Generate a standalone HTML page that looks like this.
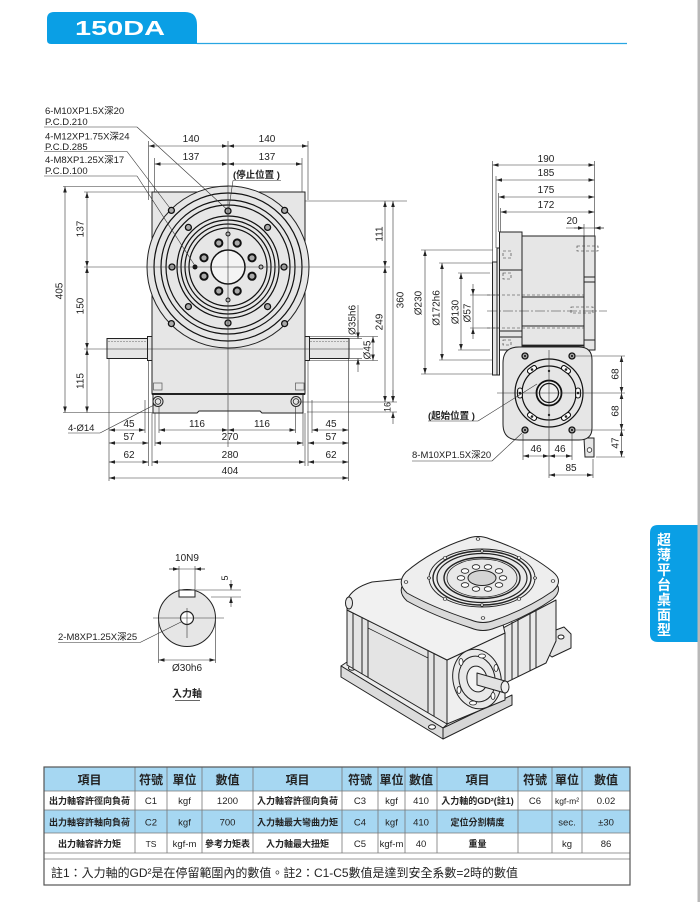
<!DOCTYPE html>
<html><head><meta charset="utf-8">
<style>
html,body{margin:0;padding:0;background:#fff;}
svg{display:block;}
text{font-family:"Liberation Sans","Noto Sans CJK TC",sans-serif;fill:#222;}
.f{fill:#e6e6e6;stroke:#222;stroke-width:1;}
.o{fill:none;stroke:#111;stroke-width:1.2;}
.d{stroke:#333;stroke-width:0.6;fill:none;}
.da{stroke:#333;stroke-width:0.6;fill:none;marker-start:url(#ar);marker-end:url(#ar);}
.de{stroke:#333;stroke-width:0.6;fill:none;marker-end:url(#ar);}
.n{font-size:10px;text-anchor:middle;}
.l{font-size:9.5px;}
.th{font-size:12px;font-weight:bold;text-anchor:middle;}
.tc{font-size:9px;font-weight:bold;text-anchor:middle;}
.tn{font-size:9.5px;text-anchor:middle;}
.h{fill:#aaa;stroke:#111;stroke-width:1.3;}
.tb{fill:none;stroke:#777;stroke-width:0.8;}
</style></head><body>
<svg width="700" height="902" viewBox="0 0 700 902">
<defs>
<marker id="ar" viewBox="0 0 10 6" refX="10" refY="3" markerWidth="6" markerHeight="3.6" orient="auto-start-reverse" markerUnits="userSpaceOnUse"><path d="M0,0L10,3L0,6z" fill="#222"/></marker>
</defs>

<rect x="697.5" y="0" width="2.5" height="902" fill="#b8b8b8"/>

<!-- header -->
<path d="M47,40 L47,19 Q47,12 54,12 L185,12 Q197,12 197,25 L197,44 L51,44 Q47,44 47,40 Z" fill="#0a9fe5"/>
<text x="75" y="35" font-size="20" font-weight="bold" style="fill:#fff" textLength="90" lengthAdjust="spacingAndGlyphs">150DA</text>
<line x1="197" y1="43.5" x2="627" y2="43.5" stroke="#29a6e2" stroke-width="1.3"/>

<!-- ================= FRONT VIEW ================= -->
<rect x="107" y="338.5" width="41" height="20" class="f"/>
<line x1="108" y1="341.5" x2="147" y2="341.5" stroke="#666" stroke-width="0.6" stroke-dasharray="2,1"/>
<rect x="309.5" y="338.5" width="39.5" height="20" class="f"/>
<line x1="310" y1="341.5" x2="348" y2="341.5" stroke="#666" stroke-width="0.6" stroke-dasharray="2,1"/>
<rect x="147.5" y="336.5" width="4.5" height="24" class="f"/>
<rect x="305" y="336.5" width="4.5" height="24" class="f"/>
<rect x="152" y="192" width="153" height="202" class="f"/>
<path d="M153,394 H303 V413 H262 L260,411 H199 L197,413 H153 Z" class="f"/>
<line x1="152" y1="394" x2="305" y2="394" stroke="#222" stroke-width="2"/>
<rect x="153.5" y="383" width="8.5" height="7" fill="none" stroke="#555" stroke-width="0.7"/>
<rect x="295.5" y="383" width="8.5" height="7" fill="none" stroke="#555" stroke-width="0.7"/>
<circle cx="158" cy="401.5" r="5" class="f"/><circle cx="158" cy="401.5" r="2.8" fill="none" stroke="#222" stroke-width="0.8"/>
<circle cx="296" cy="401.5" r="5" class="f"/><circle cx="296" cy="401.5" r="2.8" fill="none" stroke="#222" stroke-width="0.8"/>

<circle cx="228" cy="267" r="81" class="f" stroke-width="1.3"/>
<circle cx="228" cy="267" r="74" class="o" stroke-width="1.9"/>
<circle cx="228" cy="267" r="67" class="o" stroke-width="1.9"/>
<circle cx="228" cy="267" r="62" class="o" stroke-width="0.8"/>
<circle cx="228" cy="267" r="51" class="o" stroke-width="1.9"/>
<circle cx="228" cy="267" r="47" class="o" stroke-width="1.9"/>
<circle cx="228" cy="267" r="43" class="o" stroke-width="1.9"/>
<circle cx="228" cy="267" r="39" class="o" stroke-width="1.5"/>
<circle cx="228" cy="267" r="17" fill="#f4f4f4" stroke="#111" stroke-width="1.5"/>
<g>
<circle cx="284" cy="267" r="3" class="h"/><circle cx="267.6" cy="306.6" r="3" class="h"/>
<circle cx="228" cy="323" r="3" class="h"/><circle cx="188.4" cy="306.6" r="3" class="h"/>
<circle cx="172" cy="267" r="3" class="h"/><circle cx="188.4" cy="227.4" r="3" class="h"/>
<circle cx="228" cy="211" r="3" class="h"/><circle cx="267.6" cy="227.4" r="3" class="h"/>
<circle cx="284.6" cy="323.6" r="3" class="h"/><circle cx="171.4" cy="323.6" r="3" class="h"/>
<circle cx="171.4" cy="210.4" r="3" class="h"/><circle cx="284.6" cy="210.4" r="3" class="h"/>
</g>
<g fill="#aaa" stroke="#111" stroke-width="2">
<circle cx="252" cy="276.2" r="3.6"/><circle cx="237.2" cy="291" r="3.6"/>
<circle cx="218.8" cy="291" r="3.6"/><circle cx="204" cy="276.2" r="3.6"/>
<circle cx="204" cy="257.8" r="3.6"/><circle cx="218.8" cy="243" r="3.6"/>
<circle cx="237.2" cy="243" r="3.6"/><circle cx="252" cy="257.8" r="3.6"/>
</g>
<g fill="#ddd" stroke="#111" stroke-width="1">
<circle cx="261" cy="267" r="2"/><circle cx="228" cy="300" r="2"/><circle cx="228" cy="234" r="2"/>
</g>
<circle cx="195" cy="267" r="2.5" fill="#111"/>

<g class="d">
<line x1="228" y1="141" x2="228" y2="447"/>
<line x1="84" y1="267" x2="390" y2="267"/>
<line x1="84" y1="349" x2="363" y2="349"/>
<line x1="63" y1="186.5" x2="228" y2="186.5"/>
<line x1="84" y1="192" x2="152" y2="192"/>
<line x1="63" y1="412.5" x2="153" y2="412.5"/>
<line x1="305" y1="201" x2="407" y2="201"/>
<line x1="297" y1="402" x2="397" y2="402"/>
<line x1="307" y1="412" x2="397" y2="412"/>
<line x1="148.5" y1="141" x2="148.5" y2="200"/>
<line x1="148.5" y1="361" x2="148.5" y2="466"/>
<line x1="308" y1="141" x2="308" y2="200"/>
<line x1="308" y1="361" x2="308" y2="466"/>
<line x1="154.5" y1="158" x2="154.5" y2="192"/>
<line x1="302" y1="158" x2="302" y2="192"/>
<line x1="109" y1="359" x2="109" y2="481"/>
<line x1="348.5" y1="359" x2="348.5" y2="481"/>
<line x1="145" y1="400" x2="145" y2="433"/>
<line x1="152" y1="413" x2="152" y2="466"/>
<line x1="155" y1="413" x2="155" y2="446"/>
<line x1="159" y1="406" x2="159" y2="433"/>
<line x1="295.5" y1="406" x2="295.5" y2="433"/>
<line x1="303" y1="413" x2="303" y2="446"/>
<line x1="305" y1="413" x2="305" y2="466"/>
<line x1="312" y1="400" x2="312" y2="433"/>
<line x1="349" y1="338.5" x2="362" y2="338.5"/>
<line x1="349" y1="358.5" x2="362" y2="358.5"/>
<line x1="309" y1="336.5" x2="378" y2="336.5"/>
<line x1="309" y1="360.5" x2="378" y2="360.5"/>
<line x1="358" y1="305" x2="358" y2="338.5"/>
<line x1="44" y1="127" x2="137" y2="127"/><line x1="137" y1="127" x2="226" y2="208.5"/>
<line x1="44" y1="151.5" x2="127" y2="151.5"/><line x1="127" y1="151.5" x2="169.5" y2="207.5"/>
<line x1="44" y1="176" x2="137" y2="176"/><line x1="137" y1="176" x2="194.5" y2="265"/>
<line x1="233" y1="180.5" x2="281" y2="180.5"/><line x1="233" y1="180.5" x2="229" y2="207.5"/>
<line x1="68" y1="433" x2="100" y2="433"/><line x1="100" y1="433" x2="156" y2="404"/>
</g>
<g class="da">
<line x1="148.5" y1="146" x2="228" y2="146"/><line x1="228" y1="146" x2="308" y2="146"/>
<line x1="154.5" y1="164" x2="228" y2="164"/><line x1="228" y1="164" x2="302" y2="164"/>
<line x1="65" y1="186.5" x2="65" y2="412.5"/>
<line x1="87" y1="192" x2="87" y2="267"/><line x1="87" y1="267" x2="87" y2="349"/><line x1="87" y1="349" x2="87" y2="412.5"/>
<line x1="385" y1="201" x2="385" y2="267"/><line x1="385" y1="267" x2="385" y2="402"/>
<line x1="393" y1="201" x2="393" y2="402"/>
<line x1="373" y1="336.5" x2="373" y2="360.5"/>
<line x1="109" y1="430" x2="145" y2="430"/><line x1="159" y1="430" x2="228" y2="430"/><line x1="228" y1="430" x2="295.5" y2="430"/><line x1="312" y1="430" x2="348.5" y2="430"/>
<line x1="109" y1="443" x2="148.5" y2="443"/><line x1="155" y1="443" x2="303" y2="443"/><line x1="308" y1="443" x2="348.5" y2="443"/>
<line x1="109" y1="462" x2="148.5" y2="462"/><line x1="152" y1="462" x2="305" y2="462"/><line x1="308" y1="462" x2="348.5" y2="462"/>
<line x1="109" y1="478" x2="348.5" y2="478"/>
</g>
<g class="de">
<line x1="358" y1="320" x2="358" y2="338.5"/><line x1="358" y1="372" x2="358" y2="358.5"/>
<line x1="393" y1="390" x2="393" y2="402"/><line x1="393" y1="424" x2="393" y2="412"/>
</g>
<g class="l">
<text x="45" y="114">6-M10XP1.5X深20</text>
<text x="45" y="125">P.C.D.210</text>
<text x="45" y="139.5">4-M12XP1.75X深24</text>
<text x="45" y="150">P.C.D.285</text>
<text x="45" y="163">4-M8XP1.25X深17</text>
<text x="45" y="174">P.C.D.100</text>
<text x="233" y="178" font-weight="bold">(停止位置 )</text>
<text x="68" y="431">4-Ø14</text>
</g>
<g class="n">
<text x="191" y="142">140</text><text x="267" y="142">140</text>
<text x="191" y="160">137</text><text x="267" y="160">137</text>
<text transform="translate(59,291) rotate(-90)" dy=".35em">405</text>
<text transform="translate(80,229) rotate(-90)" dy=".35em">137</text>
<text transform="translate(80,306) rotate(-90)" dy=".35em">150</text>
<text transform="translate(80,381) rotate(-90)" dy=".35em">115</text>
<text transform="translate(379,234) rotate(-90)" dy=".35em">111</text>
<text transform="translate(379,322) rotate(-90)" dy=".35em">249</text>
<text transform="translate(400,300) rotate(-90)" dy=".35em">360</text>
<text transform="translate(387.5,407) rotate(-90)" dy=".35em" font-size="9">16</text>
<text transform="translate(352,320) rotate(-90)" dy=".35em">Ø35h6</text>
<text transform="translate(367,350) rotate(-90)" dy=".35em">Ø45</text>
<text x="129" y="427">45</text><text x="197" y="427">116</text><text x="262" y="427">116</text><text x="331" y="427">45</text>
<text x="129" y="440">57</text><text x="230" y="440">270</text><text x="331" y="440">57</text>
<text x="129" y="458">62</text><text x="230" y="458">280</text><text x="331" y="458">62</text>
<text x="230" y="474">404</text>
</g>

<!-- ================= SIDE VIEW ================= -->
<rect x="492.5" y="262" width="4.5" height="113" class="f"/>
<rect x="497" y="248" width="2.5" height="127" class="f"/>
<rect x="499.5" y="232" width="22.5" height="118" class="f"/>
<rect x="522" y="236" width="62" height="110" class="f"/>
<rect x="584" y="236" width="11" height="114" class="f"/>
<g stroke="#222" stroke-width="1">
<line x1="499.5" y1="270" x2="522" y2="270"/>
<line x1="499.5" y1="331" x2="522" y2="331"/>
<line x1="499.5" y1="337" x2="522" y2="337"/>
<line x1="522" y1="297" x2="584" y2="297"/>
<line x1="522" y1="326" x2="584" y2="326"/>
<line x1="584" y1="277" x2="595" y2="277"/>
<line x1="584" y1="282" x2="595" y2="282"/>
<line x1="584" y1="340" x2="595" y2="340"/>
<line x1="522" y1="345.5" x2="584" y2="345.5" stroke-width="1.8"/>
</g>
<g stroke="#333" stroke-width="0.6" stroke-dasharray="3,2" fill="none">
<line x1="487" y1="295" x2="584" y2="295"/>
<line x1="487" y1="328" x2="584" y2="328"/>
<rect x="503" y="251" width="8" height="7"/>
<rect x="503" y="273" width="8" height="6"/>
<rect x="577" y="246" width="21" height="5"/>
<rect x="571" y="307" width="22" height="6"/>
<rect x="503" y="340" width="8" height="5"/>
</g>
<line x1="487" y1="311" x2="607" y2="311" stroke="#333" stroke-width="0.6" stroke-dasharray="10,2,2,2"/>

<path d="M584,438 L594,438 L594,457 L585,457 Z" class="f"/>
<circle cx="589.5" cy="450" r="2.3" fill="#fff" stroke="#222" stroke-width="0.8"/>
<path d="M519,347 L579,347 Q592,347 592,360 L592,428 Q592,440 579,440 L519,440 Q503,440 503,424 L503,363 Q503,347 519,347 Z" class="f" stroke-width="1.2"/>
<circle cx="549" cy="393" r="34" class="o"/>
<circle cx="549" cy="393" r="27" class="o"/>
<circle cx="549" cy="393" r="12.5" fill="#f0f0f0" stroke="#111" stroke-width="1.8"/>
<circle cx="549" cy="393" r="9.5" class="o" stroke-width="1"/>
<g fill="#fff" stroke="#111" stroke-width="1.1">
<rect x="-5" y="-2.4" width="10" height="4.8" rx="2.4" transform="translate(578,393) rotate(90)"/>
<rect x="-5" y="-2.4" width="10" height="4.8" rx="2.4" transform="translate(566,416.5) rotate(144)"/>
<rect x="-5" y="-2.4" width="10" height="4.8" rx="2.4" transform="translate(532,416.5) rotate(216)"/>
<rect x="-5" y="-2.4" width="10" height="4.8" rx="2.4" transform="translate(520,393) rotate(270)"/>
<rect x="-5" y="-2.4" width="10" height="4.8" rx="2.4" transform="translate(532,369.5) rotate(324)"/>
<rect x="-5" y="-2.4" width="10" height="4.8" rx="2.4" transform="translate(566,369.5) rotate(36)"/>
</g>
<g fill="#222">
<circle cx="578" cy="393" r="1.3"/><circle cx="566" cy="416.5" r="1.3"/><circle cx="532" cy="416.5" r="1.3"/>
<circle cx="520" cy="393" r="1.3"/><circle cx="532" cy="369.5" r="1.3"/><circle cx="566" cy="369.5" r="1.3"/>
<circle cx="549" cy="371" r="1.2"/><circle cx="549" cy="415" r="1.2"/>
</g>
<g>
<circle cx="525" cy="356" r="3" class="h"/><circle cx="572" cy="356" r="3" class="h"/>
<circle cx="525" cy="430" r="3" class="h"/><circle cx="572" cy="430" r="3" class="h"/>
</g>
<g fill="#222"><circle cx="525" cy="356" r="1.1"/><circle cx="572" cy="356" r="1.1"/><circle cx="525" cy="430" r="1.1"/><circle cx="572" cy="430" r="1.1"/></g>
<g class="d">
<line x1="497" y1="393" x2="625" y2="393"/>
<line x1="549" y1="350" x2="549" y2="478"/>
<line x1="492.5" y1="161" x2="492.5" y2="262"/>
<line x1="496" y1="176" x2="496" y2="248"/>
<line x1="498.5" y1="193" x2="498.5" y2="232"/>
<line x1="500.5" y1="208" x2="500.5" y2="232"/>
<line x1="594.5" y1="161" x2="594.5" y2="236"/>
<line x1="584" y1="224" x2="584" y2="236"/>
<line x1="566" y1="228" x2="604" y2="228"/>
<line x1="421" y1="250" x2="493" y2="250"/>
<line x1="421" y1="374" x2="493" y2="374"/>
<line x1="439" y1="263" x2="493" y2="263"/>
<line x1="439" y1="360" x2="493" y2="360"/>
<line x1="458" y1="273" x2="490" y2="273"/>
<line x1="458" y1="350" x2="490" y2="350"/>
<line x1="470" y1="295" x2="499" y2="295"/>
<line x1="470" y1="328" x2="499" y2="328"/>
<line x1="473" y1="295" x2="473" y2="328"/>
<line x1="576" y1="356" x2="625" y2="356"/>
<line x1="576" y1="430" x2="625" y2="430"/>
<line x1="596" y1="457" x2="625" y2="457"/>
<line x1="523" y1="434" x2="523" y2="460"/>
<line x1="572" y1="434" x2="572" y2="460"/>
<line x1="593" y1="459" x2="593" y2="478"/>
<line x1="428" y1="421" x2="478" y2="421"/><line x1="478" y1="421" x2="537" y2="384"/>
<line x1="412" y1="461" x2="492" y2="461"/><line x1="492" y1="461" x2="522" y2="433"/>
</g>
<g class="da">
<line x1="492.5" y1="165" x2="594.5" y2="165"/>
<line x1="496" y1="180" x2="594.5" y2="180"/>
<line x1="498.5" y1="197" x2="594.5" y2="197"/>
<line x1="500.5" y1="212" x2="594.5" y2="212"/>
<line x1="425" y1="250" x2="425" y2="374"/>
<line x1="442" y1="263" x2="442" y2="360"/>
<line x1="461" y1="273" x2="461" y2="350"/>
<line x1="621.5" y1="356" x2="621.5" y2="393"/>
<line x1="621.5" y1="393" x2="621.5" y2="430"/>
<line x1="621.5" y1="430" x2="621.5" y2="457"/>
<line x1="523" y1="456" x2="549" y2="456"/>
<line x1="549" y1="456" x2="572" y2="456"/>
<line x1="549" y1="475" x2="593" y2="475"/>
</g>
<g class="de">
<line x1="574" y1="228" x2="584" y2="228"/><line x1="604" y1="228" x2="594.5" y2="228"/>
<line x1="473" y1="284" x2="473" y2="295"/><line x1="473" y1="339" x2="473" y2="328"/>
</g>
<g class="n">
<text x="546" y="162">190</text><text x="546" y="176">185</text>
<text x="546" y="193">175</text><text x="546" y="208">172</text>
<text x="572" y="224">20</text>
<text transform="translate(418,303) rotate(-90)" dy=".35em">Ø230</text>
<text transform="translate(436,308) rotate(-90)" dy=".35em">Ø172h6</text>
<text transform="translate(455,312) rotate(-90)" dy=".35em">Ø130</text>
<text transform="translate(467,313) rotate(-90)" dy=".35em">Ø57</text>
<text transform="translate(615,374) rotate(-90)" dy=".35em">68</text>
<text transform="translate(615,411) rotate(-90)" dy=".35em">68</text>
<text transform="translate(615,443) rotate(-90)" dy=".35em">47</text>
<text x="536" y="452">46</text><text x="560" y="452">46</text>
<text x="571" y="471">85</text>
</g>
<g class="l">
<text x="428" y="419" font-weight="bold">(起始位置 )</text>
<text x="412" y="458">8-M10XP1.5X深20</text>
</g>

<!-- ================= INPUT SHAFT ================= -->
<circle cx="187" cy="618" r="28.5" class="f" stroke-width="1.2"/>
<rect x="179" y="590" width="16" height="7" fill="#fff" stroke="#222" stroke-width="1"/>
<circle cx="187" cy="618" r="6.5" fill="#fff" stroke="#222" stroke-width="1.2"/>
<g class="d">
<line x1="153" y1="618" x2="224" y2="618"/>
<line x1="187" y1="608" x2="187" y2="638"/>
<line x1="179" y1="566" x2="179" y2="590"/>
<line x1="195" y1="566" x2="195" y2="590"/>
<line x1="169" y1="569" x2="205" y2="569"/>
<line x1="196" y1="590" x2="241" y2="590"/>
<line x1="211" y1="597" x2="241" y2="597"/>
<line x1="158.5" y1="620" x2="158.5" y2="663"/>
<line x1="215.5" y1="620" x2="215.5" y2="663"/>
<line x1="58" y1="642.5" x2="140" y2="642.5"/><line x1="140" y1="642.5" x2="181" y2="622"/>
<line x1="175" y1="700.5" x2="200" y2="700.5" stroke-width="0.8"/>
</g>
<g class="de">
<line x1="169" y1="569" x2="179" y2="569"/><line x1="205" y1="569" x2="195" y2="569"/>
<line x1="231" y1="580" x2="231" y2="590"/><line x1="231" y1="607" x2="231" y2="597"/>
</g>
<line x1="158.5" y1="660" x2="215.5" y2="660" class="da"/>
<g class="n">
<text x="187" y="561">10N9</text>
<text transform="translate(225,578) rotate(-90)" dy=".35em" font-size="9">5</text>
<text x="187" y="671">Ø30h6</text>
<text x="187" y="697" font-weight="bold">入力軸</text>
</g>
<text x="58" y="640" class="l">2-M8XP1.25X深25</text>

<!-- ================= 3D VIEW ================= -->
<g stroke="#222" stroke-width="1" stroke-linejoin="round">
<path d="M545,634 L564,627 L571,634 L571,648 L552,657 L545,652 Z" fill="#e6e6e6"/>
<ellipse cx="561" cy="637" rx="3" ry="2" fill="#fff"/>
<path d="M503,628 L556,600 L556,641 L546,663 L503,684 Z" fill="#e9e9e9"/>
<line x1="512" y1="622" x2="512" y2="680"/>
<line x1="518" y1="619" x2="518" y2="677"/>
<line x1="530" y1="613" x2="530" y2="671"/>
<line x1="536" y1="610" x2="536" y2="668"/>
<path d="M341,666 L350,660 L452,720 L443,728 Z" fill="#ececec"/>
<path d="M341,666 L443,728 L443,739 L341,677 Z" fill="#dcdcdc"/>
<path d="M443,728 L512,695 L512,705 L443,739 Z" fill="#d6d6d6"/>
<ellipse cx="352" cy="668" rx="3.5" ry="2.2" fill="#fff"/>
<ellipse cx="432" cy="727" rx="3.5" ry="2.2" fill="#fff"/>
<path d="M347,610 L447,660 L447,724 L347,665 Z" fill="#e4e4e4"/>
<path d="M447,660 L505,633 L505,700 L447,724 Z" fill="#efefef"/>
<path d="M347,610 L347,600 Q352,588 372,582 L402,579 L500,612 L505,633 L447,660 Z" fill="#f1f1f1"/>
<ellipse cx="349" cy="603" rx="3.5" ry="6" fill="#e6e6e6"/>
<line x1="353" y1="613" x2="353" y2="668"/>
<line x1="362" y1="617" x2="362" y2="674"/>
<line x1="368" y1="620" x2="368" y2="677"/>
<line x1="428" y1="650" x2="428" y2="713"/>
<line x1="434" y1="653" x2="434" y2="716"/>
<line x1="368" y1="628" x2="428" y2="658" stroke-width="0.7"/>
<ellipse cx="477" cy="679" rx="24" ry="30" transform="rotate(-12 477 679)" fill="#e9e9e9"/>
<ellipse cx="477" cy="679" rx="18" ry="23" transform="rotate(-12 477 679)" fill="none"/>
<ellipse cx="477" cy="679" rx="10" ry="13" transform="rotate(-12 477 679)" fill="#f3f3f3"/>
<g fill="#fff" stroke-width="0.8">
<ellipse cx="482" cy="656" rx="3.5" ry="2"/><ellipse cx="496" cy="668" rx="2" ry="3.5"/>
<ellipse cx="493" cy="696" rx="2" ry="3.5"/><ellipse cx="473" cy="703" rx="3.5" ry="2"/>
<ellipse cx="459" cy="690" rx="2" ry="3.5"/><ellipse cx="461" cy="662" rx="2" ry="3.5"/>
</g>
<path d="M477,673 L505,681 L505,693 L477,685 Z" fill="#e2e2e2"/>
<ellipse cx="505" cy="687" rx="4" ry="6" fill="#eee"/>
<path d="M406,580 Q432,558 466,547 Q478,542 490,547 Q527,559 553,580 Q564,589 553,599 Q527,617 495,628 Q483,633 471,628 Q434,616 407,601 Q396,591 406,580 Z" fill="#dadada"/>
<path d="M406,572 Q432,550 466,539 Q478,534 490,539 Q527,551 553,572 Q564,581 553,591 Q527,609 495,620 Q483,625 471,620 Q434,608 407,593 Q396,583 406,572 Z" fill="#eeeeee"/>
<ellipse cx="482" cy="578" rx="53" ry="29" fill="none" stroke-width="0.9"/>
<ellipse cx="482" cy="578" rx="49" ry="27" fill="none" stroke-width="1.4"/>
<ellipse cx="482" cy="578" rx="45" ry="24.5" fill="#e8e8e8" stroke-width="1.2"/>
<ellipse cx="482" cy="578" rx="38" ry="20.5" fill="none" stroke-width="1.4"/>
<ellipse cx="482" cy="578" rx="35" ry="19" fill="none" stroke-width="0.8"/>
<g fill="#fff" stroke-width="0.8">
<ellipse cx="503" cy="578" rx="3.8" ry="2.3"/><ellipse cx="499" cy="585" rx="3.8" ry="2.3"/>
<ellipse cx="488" cy="589" rx="3.8" ry="2.3"/><ellipse cx="476" cy="589" rx="3.8" ry="2.3"/>
<ellipse cx="465" cy="585" rx="3.8" ry="2.3"/><ellipse cx="461" cy="578" rx="3.8" ry="2.3"/>
<ellipse cx="465" cy="571" rx="3.8" ry="2.3"/><ellipse cx="476" cy="567" rx="3.8" ry="2.3"/>
<ellipse cx="488" cy="567" rx="3.8" ry="2.3"/><ellipse cx="499" cy="571" rx="3.8" ry="2.3"/>
</g>
<ellipse cx="482" cy="578" rx="14" ry="7.5" fill="#d4d4d4"/>
<g fill="#fff" stroke-width="0.7">
<ellipse cx="478" cy="539" rx="1.8" ry="1.3"/><ellipse cx="553" cy="581" rx="1.8" ry="1.3"/>
<ellipse cx="406" cy="582" rx="1.8" ry="1.3"/><ellipse cx="483" cy="618" rx="1.8" ry="1.3"/>
<ellipse cx="445" cy="558" rx="1.8" ry="1.3"/><ellipse cx="519" cy="558" rx="1.8" ry="1.3"/>
<ellipse cx="445" cy="599" rx="1.8" ry="1.3"/><ellipse cx="519" cy="599" rx="1.8" ry="1.3"/>
<ellipse cx="429" cy="578" rx="1.6" ry="1.2"/><ellipse cx="535" cy="578" rx="1.6" ry="1.2"/>
<ellipse cx="482" cy="551" rx="1.6" ry="1.2"/><ellipse cx="482" cy="605" rx="1.6" ry="1.2"/>
</g>
</g>

<!-- ================= RIGHT TAB ================= -->
<path d="M697.5,525 L658,525 Q650,525 650,533 L650,634 Q650,642 658,642 L697.5,642 Z" fill="#0a9fe5"/>
<g font-size="14" font-weight="bold" text-anchor="middle">
<text x="664" y="545" style="fill:#fff">超</text>
<text x="664" y="560" style="fill:#fff">薄</text>
<text x="664" y="575" style="fill:#fff">平</text>
<text x="664" y="590" style="fill:#fff">台</text>
<text x="664" y="605" style="fill:#fff">桌</text>
<text x="664" y="620" style="fill:#fff">面</text>
<text x="664" y="635" style="fill:#fff">型</text>
</g>

<!-- ================= TABLE ================= -->
<rect x="44" y="767" width="586" height="24" fill="#a6d7f2"/>
<rect x="44" y="810" width="586" height="23" fill="#a6d7f2"/>
<g class="tb">
<line x1="44" y1="791" x2="630" y2="791"/>
<line x1="44" y1="810" x2="630" y2="810"/>
<line x1="44" y1="833" x2="630" y2="833"/>
<line x1="44" y1="853" x2="630" y2="853"/>
<line x1="44" y1="859" x2="630" y2="859"/>
<line x1="135" y1="767" x2="135" y2="853"/>
<line x1="167" y1="767" x2="167" y2="853"/>
<line x1="202" y1="767" x2="202" y2="853"/>
<line x1="253" y1="767" x2="253" y2="853"/>
<line x1="342" y1="767" x2="342" y2="853"/>
<line x1="378" y1="767" x2="378" y2="853"/>
<line x1="405" y1="767" x2="405" y2="853"/>
<line x1="437" y1="767" x2="437" y2="853"/>
<line x1="518" y1="767" x2="518" y2="853"/>
<line x1="552" y1="767" x2="552" y2="853"/>
<line x1="582" y1="767" x2="582" y2="853"/>
</g>
<rect x="44" y="767" width="586" height="118" fill="none" stroke="#555" stroke-width="1.2"/>
<g class="th">
<text x="89.5" y="784">項目</text><text x="151" y="784">符號</text><text x="184.5" y="784">單位</text><text x="227.5" y="784">數值</text>
<text x="297.5" y="784">項目</text><text x="360" y="784">符號</text><text x="391.5" y="784">單位</text><text x="421" y="784">數值</text>
<text x="477.5" y="784">項目</text><text x="535" y="784">符號</text><text x="567" y="784">單位</text><text x="606" y="784">數值</text>
</g>
<g class="tc">
<text x="89.5" y="804">出力軸容許徑向負荷</text>
<text x="297.5" y="804">入力軸容許徑向負荷</text>
<text x="477.5" y="804">入力軸的GD²(註1)</text>
<text x="89.5" y="825.5">出力軸容許軸向負荷</text>
<text x="297.5" y="825.5">入力軸最大彎曲力矩</text>
<text x="477.5" y="825.5">定位分割精度</text>
<text x="89.5" y="847">出力軸容許力矩</text>
<text x="297.5" y="847">入力軸最大扭矩</text>
<text x="477.5" y="847">重量</text>
<text x="227.5" y="847">參考力矩表</text>
</g>
<g class="tn">
<text x="151" y="804">C1</text><text x="184.5" y="804">kgf</text><text x="227.5" y="804">1200</text>
<text x="360" y="804">C3</text><text x="391.5" y="804">kgf</text><text x="421" y="804">410</text>
<text x="535" y="804">C6</text><text x="567" y="804" font-size="8.5">kgf-m²</text><text x="606" y="804">0.02</text>
<text x="151" y="825.5">C2</text><text x="184.5" y="825.5">kgf</text><text x="227.5" y="825.5">700</text>
<text x="360" y="825.5">C4</text><text x="391.5" y="825.5">kgf</text><text x="421" y="825.5">410</text>
<text x="567" y="825.5">sec.</text><text x="606" y="825.5">±30</text>
<text x="151" y="847" font-size="8.5">TS</text><text x="184.5" y="847">kgf-m</text>
<text x="360" y="847">C5</text><text x="391.5" y="847">kgf-m</text><text x="421" y="847">40</text>
<text x="567" y="847">kg</text><text x="606" y="847">86</text>
</g>
<text x="51" y="877" font-size="12" textLength="467" lengthAdjust="spacingAndGlyphs">註1：入力軸的GD²是在停留範圍內的數值。註2：C1-C5數值是達到安全系數=2時的數值</text>
</svg>
</body></html>
